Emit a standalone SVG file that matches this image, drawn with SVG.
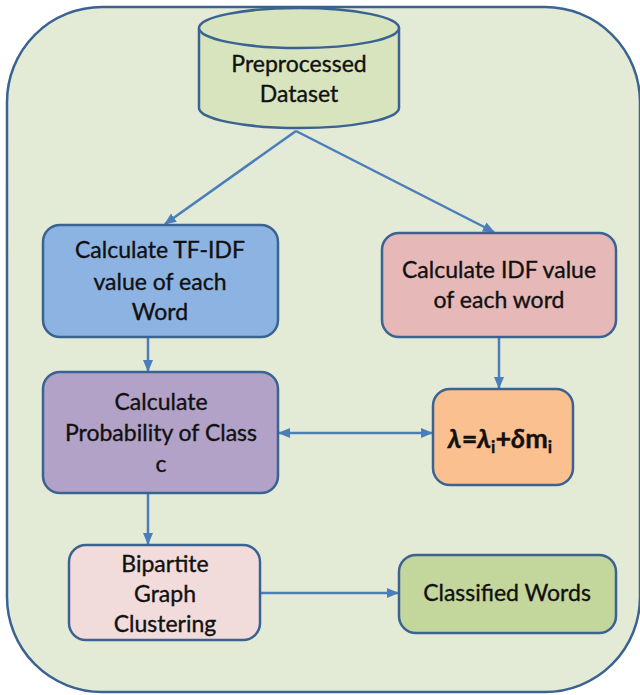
<svg xmlns="http://www.w3.org/2000/svg" width="640" height="695" viewBox="0 0 640 695">
<defs>
<style>
.box{stroke:#3a6391;stroke-width:2.5}
.t{font-family:Lato,"Open Sans",sans-serif;font-size:23px;fill:#111;stroke:#111;stroke-width:0.35;text-anchor:middle}
.c{stroke:#4a7ebb;stroke-width:2.5;fill:none}
</style>
<marker id="ah" markerUnits="userSpaceOnUse" markerWidth="12" markerHeight="12" viewBox="0 0 12 12" refX="11" refY="6" orient="auto-start-reverse">
<path d="M0,1 L12,6 L0,11 Z" fill="#4a7ebb"/>
</marker>
</defs>
<rect width="640" height="695" fill="#ffffff"/>
<g id="container">
<rect x="7" y="7" width="633" height="685" rx="95" ry="95" fill="#e3ead5" stroke="#3a6391" stroke-width="2.5"/>
</g>
<g id="connectors">
<line class="c" x1="296" y1="131" x2="165" y2="224" marker-end="url(#ah)"/>
<line class="c" x1="296" y1="131" x2="494" y2="232" marker-end="url(#ah)"/>
<line class="c" x1="148" y1="337" x2="148" y2="371" marker-end="url(#ah)"/>
<line class="c" x1="499" y1="337" x2="499" y2="388" marker-end="url(#ah)"/>
<line class="c" x1="279" y1="433" x2="432" y2="433" marker-start="url(#ah)" marker-end="url(#ah)"/>
<line class="c" x1="148" y1="493" x2="148" y2="544" marker-end="url(#ah)"/>
<line class="c" x1="260" y1="593" x2="398" y2="593" marker-end="url(#ah)"/>
</g>
<g id="dataset">
<path class="box" d="M199,28 L199,108 A100,20 0 0 0 399,108 L399,28" fill="#d7e4bd"/>
<ellipse class="box" cx="299" cy="28" rx="100" ry="20" fill="#d7e4bd"/>
<text class="t" x="299" y="72">Preprocessed</text>
<text class="t" x="299" y="102">Dataset</text>
</g>
<g id="tfidf">
<rect class="box" x="43" y="225" width="235" height="112" rx="17" fill="#8db3e2"/>
<text class="t" x="160" y="258">Calculate TF-IDF</text>
<text class="t" x="160" y="290">value of each</text>
<text class="t" x="160" y="320">Word</text>
</g>
<g id="idf">
<rect class="box" x="382" y="233" width="234" height="104" rx="17" fill="#e6b9b8"/>
<text class="t" x="499" y="278">Calculate IDF value</text>
<text class="t" x="499" y="308">of each word</text>
</g>
<g id="probability">
<rect class="box" x="43" y="372" width="235" height="121" rx="17" fill="#b2a2c7"/>
<text class="t" x="161" y="410">Calculate</text>
<text class="t" x="161" y="441">Probability of Class</text>
<text class="t" x="161" y="472">c</text>
</g>
<g id="lambda">
<rect class="box" x="433" y="389" width="140" height="96" rx="17" fill="#fac090"/>
<text class="t" x="500" y="448" style="font-size:27px;font-weight:bold"><tspan font-style="italic">λ</tspan>=<tspan font-style="italic">λ</tspan><tspan style="font-size:17px" dy="5">i</tspan><tspan dy="-5">+</tspan><tspan font-style="italic">δ</tspan>m<tspan style="font-size:17px" dy="5">i</tspan></text>
</g>
<g id="bipartite">
<rect class="box" x="69" y="545" width="191" height="95" rx="17" fill="#f2dcdb"/>
<text class="t" x="165" y="572">Bipartite</text>
<text class="t" x="165" y="602">Graph</text>
<text class="t" x="165" y="632">Clustering</text>
</g>
<g id="classified">
<rect class="box" x="399" y="555" width="217" height="78" rx="17" fill="#c3d69b"/>
<text class="t" x="507" y="601">Classified Words</text>
</g>
</svg>
